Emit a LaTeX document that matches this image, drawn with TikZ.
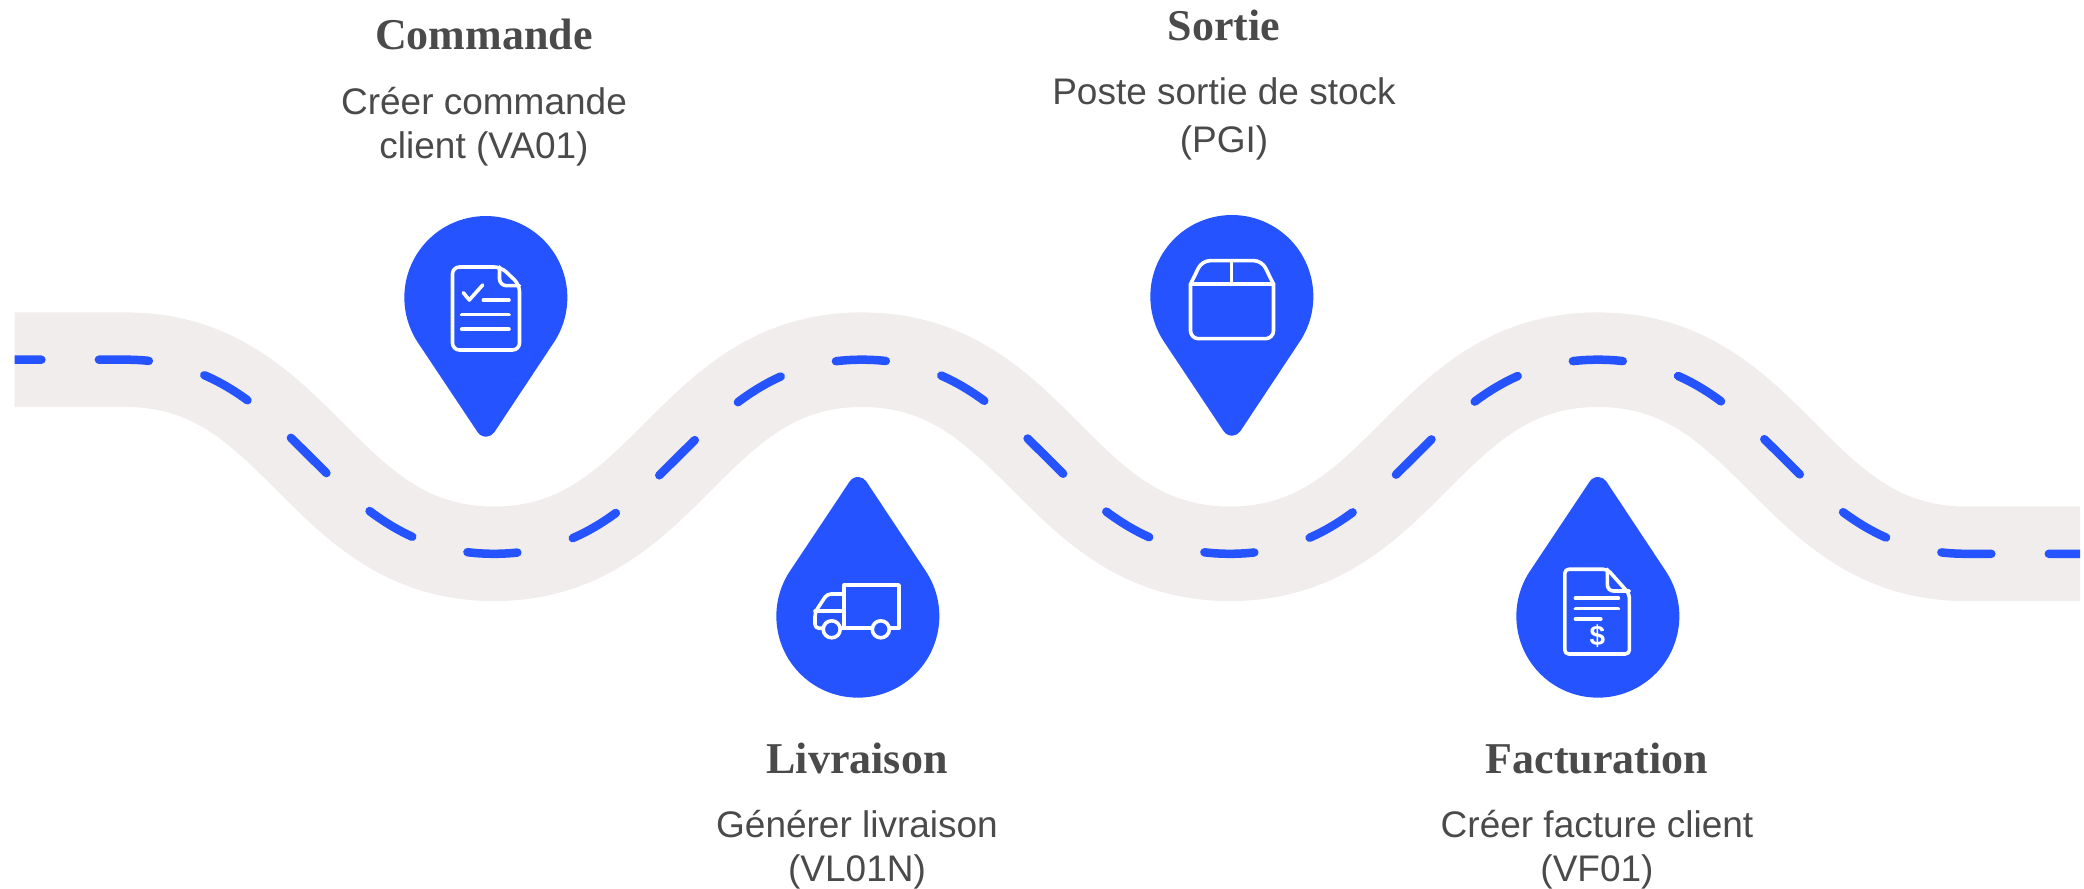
\documentclass[tikz,border=0pt]{standalone}
\usepackage{fontspec}
\setmainfont{Liberation Sans}
\newfontfamily\titlefont{Liberation Serif}
\definecolor{pinblue}{HTML}{2453FF}
\definecolor{roadgrey}{HTML}{F1EDED}
\definecolor{textgrey}{HTML}{4A4A4A}
\newcommand{\roadpath}{(14.5,529.3) -- (126,529.3)
  .. controls (300,529.3) and (320,335.2) .. (494,335.2)
  .. controls (668,335.2) and (688,529.3) .. (862,529.3)
  .. controls (1036,529.3) and (1056,335.2) .. (1230,335.2)
  .. controls (1404,335.2) and (1424,529.3) .. (1598,529.3)
  .. controls (1772,529.3) and (1792,335.2) .. (1966,335.2)
  -- (2080,335.2)}
\tikzset{
  titlenode/.style={anchor=base,text=textgrey,font=\titlefont\bfseries\fontsize{22}{26}\selectfont},
  bodynode/.style={anchor=base,align=center,text=textgrey,font=\fontsize{18.5}{22}\selectfont},
  iconline/.style={draw=white,line width=1.8pt,line cap=round,line join=round},
  pics/droppin/.style={code={
    \fill[pinblue] (67,-46) arc (-34.5:214.5:81.5) -- (-8.34,-134.5)
      arc (213.5:326.5:10) -- cycle;
  }},
  pics/tickdoc/.style={code={
    \draw[iconline,rounded corners=3.5pt] (15,30.7) -- (33.5,13) -- (33.5,-52.3) -- (-33.5,-52.3) -- (-33.5,30.7) -- cycle;
    \draw[iconline,rounded corners=3.5pt] (13.5,30.7) -- (13.5,12) -- (33.5,12);
    \draw[iconline] (-22.7,5) -- (-16.7,-2.3) -- (-3.3,12.7);
    \draw[iconline] (-2.7,-2.6) -- (23,-2.6);
    \draw[iconline] (-24.3,-17) -- (23,-17);
    \draw[iconline] (-24.3,-31.6) -- (23,-31.6);
  }},
  pics/parcel/.style={code={
    \draw[iconline,rounded corners=4pt] (-41.5,12.4) -- (-41.5,-42) -- (41.5,-42) -- (41.5,12.4);
    \draw[iconline] (-41.5,12.4) -- (41.5,12.4);
    \draw[iconline,rounded corners=4pt] (-41.5,12.4) -- (-30,36) -- (30,36) -- (41.5,12.4);
    \draw[iconline] (-0.5,36) -- (-0.5,12.4);
  }},
  pics/lorry/.style={code={
    \draw[iconline] (-13.8,-12.3) -- (-13.8,31) -- (41,31) -- (41,-12.3) -- (31.3,-12.3);
    \draw[iconline] (14.3,-12.3) -- (-18,-12.3);
    \draw[iconline,rounded corners=2pt] (-13.8,22) -- (-31,22) -- (-43,3.5) -- (-43,-12.3) -- (-35,-12.3);
    \draw[iconline] (-43,4.7) -- (-13.8,4.7);
    \draw[iconline] (-26.3,-13.3) circle (8.5);
    \draw[iconline] (22.8,-13.3) circle (8.5);
  }},
  pics/billdoc/.style={code={
    \draw[iconline,rounded corners=2pt] (9.6,46.7) -- (31.6,22) -- (31.6,-38) -- (-33,-38) -- (-33,46.7) -- cycle;
    \draw[iconline,rounded corners=3pt] (9.6,46.7) -- (9.6,25) -- (31.6,25);
    \draw[iconline] (-22.4,17.7) -- (20.6,17.7);
    \draw[iconline] (-22.4,7.3) -- (20.6,7.3);
    \draw[iconline] (-22.4,-3) -- (3,-3);
  }}
}
\begin{document}
\begin{tikzpicture}[x=0.5pt,y=0.5pt]
  \useasboundingbox (0,0) rectangle (2084,889);
  % road
  \draw[roadgrey,line width=47.3pt] \roadpath;
  \begin{scope}
    \clip (14.5,0) rectangle (2080,889);
    \draw[pinblue,line width=4.25pt,line cap=round,dash pattern=on 25pt off 28.75pt,dash phase=11.55pt] \roadpath;
  \end{scope}
  % pins
  \pic at (486,591.3) {droppin};
  \pic at (1232,592.3) {droppin};
  \pic[yscale=-1] at (858,273) {droppin};
  \pic[yscale=-1] at (1598,273) {droppin};
  \pic at (486,591.3) {tickdoc};
  \pic at (1232,592.3) {parcel};
  \pic at (858,273) {lorry};
  \pic at (1597.8,273) {billdoc};
  \node[text=white,font=\bfseries\fontsize{14}{14}\selectfont] (dollar) at (1597.5,253) {\$};
  % labels
  \node[titlenode] (commande) at (484,839) {Commande};
  \node[bodynode] (commandetext) at (484,730.5) {Créer commande\\client (VA01)};
  \node[titlenode] (sortie) at (1224,848) {Sortie};
  \node[bodynode] (sortietext) at (1224,736.5) {Poste sortie de stock\\[2pt](PGI)};
  \node[titlenode] (livraison) at (857,115) {Livraison};
  \node[bodynode] (livraisontext) at (857,7.3) {Générer livraison\\(VL01N)};
  \node[titlenode] (facturation) at (1597,115) {Facturation};
  \node[bodynode] (facturationtext) at (1597,7.3) {Créer facture client\\(VF01)};
\end{tikzpicture}
\end{document}
